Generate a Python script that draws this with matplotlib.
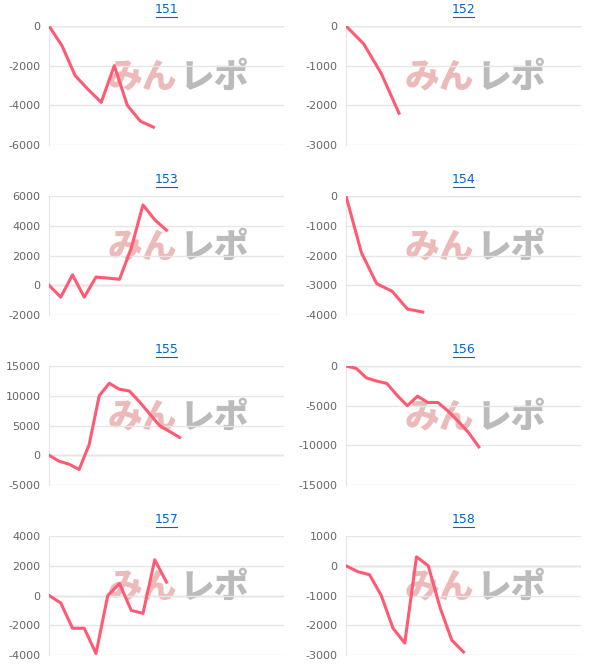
import matplotlib
matplotlib.use("Agg")
import matplotlib.pyplot as plt

titles = ["151", "152", "153", "154", "155", "156", "157", "158"]
s151 = [0, -1000, -2500, -3200, -3850, -2000, -4000, -4800, -5100]
s152 = [0, -450, -1200, -2200]
s153 = [0, -800, 700, -800, 550, 480, 400, 2500, 5400, 4400, 3700]
s154 = [0, -1900, -2950, -3200, -3800, -3900]
s155 = [0, -1000, -1500, -2400, 1800, 10000, 12100, 11100, 10800, 9000, 7000, 5000, 4000, 3000]
s156 = [0, -300, -1500, -1900, -2200, -3700, -5000, -3800, -4600, -4600, -5700, -7000, -8400, -10200]
s157 = [0, -500, -2200, -2200, -3900, 0, 800, -1000, -1200, 2400, 900]
s158 = [0, -200, -300, -1000, -2100, -2600, 300, 0, -1400, -2500, -2900]
series = [s151, s152, s153, s154, s155, s156, s157, s158]
yticks = [[0, -2000, -4000, -6000], [0, -1000, -2000, -3000],
          [6000, 4000, 2000, 0, -2000], [0, -1000, -2000, -3000, -4000],
          [15000, 10000, 5000, 0, -5000], [0, -5000, -10000, -15000],
          [4000, 2000, 0, -2000, -4000], [1000, 0, -1000, -2000, -3000]]
xmax = [18, 13.3, 20, 15.3, 23.4, 23, 20, 20]

W, H = 610, 669
fig = plt.figure(figsize=(W/100, H/100), dpi=100)
lefts = [[49, 284], [346, 581]]
rows = [(26, 145), (196, 315), (366, 485), (536, 655)]
jp = ["Noto Sans CJK JP", "DejaVu Sans"]
for i, s in enumerate(series):
    r, c = divmod(i, 2)
    x0, x1 = lefts[c]
    y0, y1 = rows[r]
    h = y1 - y0
    ax = fig.add_axes([x0/W, 1 - y1/H, (x1-x0)/W, h/H])
    ax.set_ylim(min(yticks[i]), max(yticks[i]))
    ax.set_xlim(0, xmax[i])
    ax.set_yticks(yticks[i])
    ax.set_yticklabels([str(v) for v in yticks[i]], color="#666666", fontsize=8)
    ax.set_xticks([])
    ax.tick_params(axis="y", length=0, pad=6)
    for sp in ["top", "right", "bottom"]:
        ax.spines[sp].set_visible(False)
    ax.spines["left"].set_color("#e6e6e6")
    ax.grid(axis="y", color="#e6e6e6", linewidth=1)
    ax.axhline(0, color="#cccccc", linewidth=1, zorder=1)
    ax.text(0.545, 0.57, "みん", transform=ax.transAxes, ha="right", va="center",
            fontsize=25, fontweight="black", color="#e8a3a3", alpha=0.75,
            family=jp, zorder=0)
    ax.text(0.555, 0.57, "レポ", transform=ax.transAxes, ha="left", va="center",
            fontsize=25, fontweight="black", color="#b0b0b0", alpha=0.85,
            family=jp, zorder=0)
    ax.plot(range(len(s)), s, color="#ff5a73", linewidth=2.2, zorder=3)
    ax.text(0.5, 1 + 10/h, titles[i], transform=ax.transAxes, ha="center",
            va="bottom", fontsize=9, color="#0066cc")
    ax.plot([0.456, 0.544], [1 + 9/h, 1 + 9/h], transform=ax.transAxes,
            color="#0066cc", linewidth=0.8, clip_on=False)

fig.savefig("out.png", dpi=100)
